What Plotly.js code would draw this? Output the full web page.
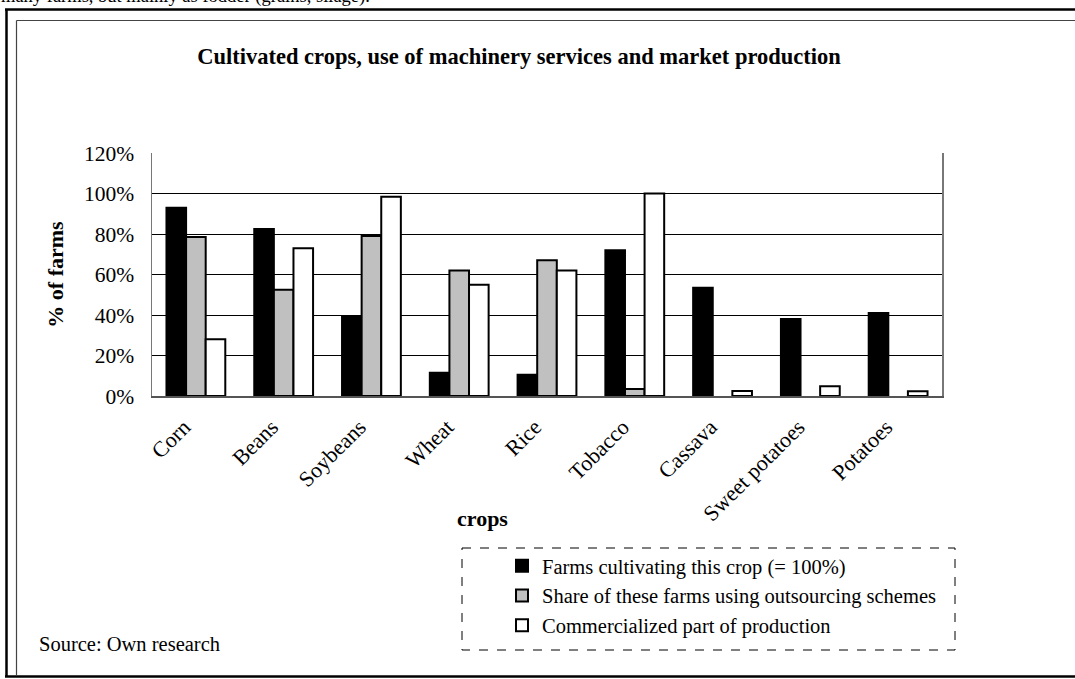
<!DOCTYPE html>
<html>
<head>
<meta charset="utf-8">
<script src="https://cdn.plot.ly/plotly-3.0.1.min.js"></script>
<style>html,body{margin:0;padding:0;background:#fff;}#chart{width:1075px;height:679px;}</style>
</head>
<body>
<div id="chart"></div>
<script>
// ---- data ----
const crops = ["Corn", "Beans", "Soybeans", "Wheat", "Rice", "Tobacco", "Cassava", "Sweet potatoes", "Potatoes"];
const farmsCultivating = [0.93, 0.825, 0.395, 0.115, 0.105, 0.72, 0.535, 0.38, 0.41];
const outsourcingShare = [0.785, 0.525, 0.79, 0.62, 0.67, 0.035, null, null, null];
const commercialized = [0.28, 0.73, 0.984, 0.55, 0.62, 1.0, 0.025, 0.048, 0.024];
const seriesNames = ["Farms cultivating this crop (= 100%)", "Share of these farms using outsourcing schemes", "Commercialized part of production"];
const yTickVals = [0, 0.2, 0.4, 0.6, 0.8, 1.0, 1.2];
const yTickText = ["0%", "20%", "40%", "60%", "80%", "100%", "120%"];

// ---- layout helpers (pixel -> paper) ----
const W = 1075, H = 679;
const L = 152, R = 942, T = 153, B = 396;
const px = x => (x - L) / (R - L);
const py = y => (B - y) / (B - T);
const FONT = '"Liberation Serif", "Times New Roman", Times, serif';

const lineStyle = {color: '#000', width: 2};
const traces = [
  {type: 'bar', name: seriesNames[0], x: crops, y: farmsCultivating,
   marker: {color: '#000000', line: lineStyle}},
  {type: 'bar', name: seriesNames[1], x: crops, y: outsourcingShare,
   marker: {color: '#c0c0c0', line: lineStyle}},
  {type: 'bar', name: seriesNames[2], x: crops, y: commercialized,
   marker: {color: '#ffffff', line: lineStyle}}
];

const shapes = [
  // outer frame
  {type: 'line', xref: 'paper', yref: 'paper', x0: px(5), x1: px(1080), y0: py(9.5), y1: py(9.5), line: {color: '#000', width: 2.5}},
  {type: 'line', xref: 'paper', yref: 'paper', x0: px(6.5), x1: px(6.5), y0: py(9), y1: py(677), line: {color: '#000', width: 2.5}},
  {type: 'line', xref: 'paper', yref: 'paper', x0: px(5), x1: px(1080), y0: py(676.5), y1: py(676.5), line: {color: '#000', width: 2.5}},
  // inner frame
  {type: 'line', xref: 'paper', yref: 'paper', x0: px(16.5), x1: px(1080), y0: py(20.5), y1: py(20.5), line: {color: '#444', width: 1.2}},
  {type: 'line', xref: 'paper', yref: 'paper', x0: px(16.5), x1: px(16.5), y0: py(20.5), y1: py(675), line: {color: '#444', width: 1.2}},
  // legend dashed box
  {type: 'rect', xref: 'paper', yref: 'paper', x0: px(462), x1: px(955), y0: py(548), y1: py(650), line: {color: '#000', width: 1, dash: 'dash'}}
];

const annotations = [
  {text: 'many farms, but mainly as fodder (grains, silage).', xref: 'paper', yref: 'paper', x: px(-1), y: py(9), xanchor: 'left', yanchor: 'bottom', showarrow: false, font: {family: FONT, size: 18.5, color: '#000'}},
  {text: '<b>crops</b>', xref: 'paper', yref: 'paper', x: px(482), y: py(518), xanchor: 'center', yanchor: 'middle', showarrow: false, font: {family: FONT, size: 22, color: '#000'}},
  {text: 'Source: Own research', xref: 'paper', yref: 'paper', x: px(37), y: py(644), xanchor: 'left', yanchor: 'middle', showarrow: false, font: {family: FONT, size: 20.5, color: '#000'}}
];

const layout = {
  width: W, height: H,
  margin: {l: L, r: W - R, t: T, b: H - B, pad: 0},
  paper_bgcolor: '#fff', plot_bgcolor: '#fff',
  font: {family: FONT, size: 20, color: '#000'},
  title: {text: '<b>Cultivated crops, use of machinery services and market production</b>',
          xref: 'paper', x: px(519), xanchor: 'center', yref: 'container', y: 1 - 56 / H, yanchor: 'middle',
          font: {family: FONT, size: 22.5, color: '#000'}},
  barmode: 'group', bargap: 0.33, bargroupgap: 0,
  xaxis: {type: 'category', tickangle: -45, showline: true, linecolor: '#555', linewidth: 1.5, mirror: false,
          showgrid: false, ticks: '', ticklabelshift: -12, ticklabelstandoff: 8,
          tickfont: {family: FONT, size: 22, color: '#000'}, automargin: false},
  yaxis: {range: [0, 1.2], tickvals: yTickVals, ticktext: yTickText, showgrid: true, gridcolor: '#000', gridwidth: 1,
          showline: true, linecolor: '#777', linewidth: 1.5, mirror: true, ticks: '', ticklabelstandoff: 12,
          zeroline: false, tickfont: {family: FONT, size: 21.5, color: '#000'}, automargin: false,
          title: {text: '<b>% of farms</b>', font: {family: FONT, size: 22, color: '#000'}, standoff: 14}},
  showlegend: true,
  legend: {x: px(502), y: py(546), xanchor: 'left', yanchor: 'top', bgcolor: 'rgba(0,0,0,0)', borderwidth: 0,
           font: {family: FONT, size: 20.5, color: '#000'}, traceorder: 'normal', tracegroupgap: 0},
  shapes: shapes,
  annotations: annotations
};

Plotly.newPlot('chart', traces, layout, {displayModeBar: false, staticPlot: true});
</script>
</body>
</html>
